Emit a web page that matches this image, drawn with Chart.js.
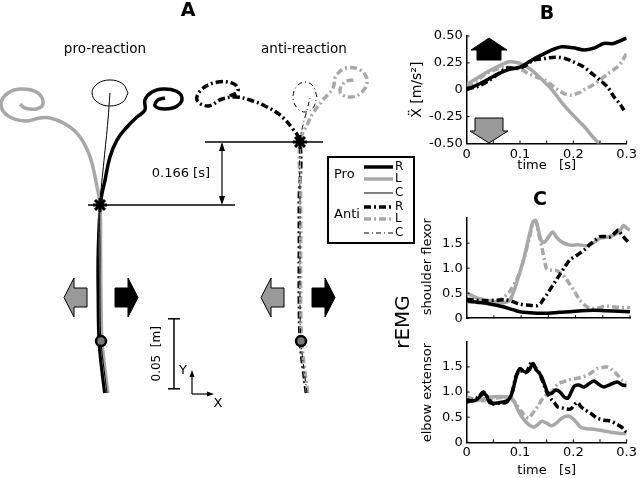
<!DOCTYPE html>
<html>
<head>
<meta charset="utf-8">
<script src="https://cdn.jsdelivr.net/npm/chart.js@4.4.0/dist/chart.umd.min.js"></script>
<style>
  html, body { margin: 0; padding: 0; background: #fff; }
  #wrap { position: relative; width: 640px; height: 478px; overflow: hidden; }
  canvas { position: absolute; }
</style>
</head>
<body>
<div id="wrap">
  <canvas id="cA" width="640" height="478" style="left:0;top:0"></canvas>
  <canvas id="cB" width="240" height="178" style="left:400px;top:0"></canvas>
  <canvas id="cC1" width="240" height="140" style="left:400px;top:190px"></canvas>
  <canvas id="cC2" width="240" height="148" style="left:400px;top:330px"></canvas>
</div>
<script>
// ---------- panel A: hand paths, mm relative to start position ----------
const PRO_R_X = [-1.6, -3.6, -5.6, -6.2, -6.2, -4.3, -1.4, 2.1, 7.1, 14.3, 21.4, 27.1, 27.1, 32.1, 40, 49.3, 53.6, 50, 41.4, 34.3, 36.4, 41.4];
const PRO_R_Y = [0, 16.4, 37, 66, 102, 137.9, 152.1, 168.6, 180.7, 190, 197.1, 202.1, 209.3, 215, 217.1, 215.7, 210.7, 205, 202.9, 205, 209.3, 210.7];
const PRO_L_X = [0.6, -1.4, -3.6, -4.3, -4.6, -5, -7.1, -12.1, -19.3, -28.6, -40.7, -47.9, -58.6, -70.7, -75.7, -70.7, -60.7, -49.3, -45.7, -50.7, -58.6, -62.1];
const PRO_L_Y = [0, 16.4, 37, 66, 102, 134.3, 147.1, 168.6, 182.9, 191.4, 196.4, 196.4, 194.3, 197.9, 206.4, 214.3, 217.1, 214.3, 206.4, 202.9, 203.6, 206.4];
const PRO_C_X = [0, -2, -4.3, -5, -5, -5, -2.1, 0.7, 2.1, null, 15, 11.4, 2.1, -7.1, -10.7, -7.1, 2.1, 11.4, 15];
const PRO_C_Y = [0, 16, 37, 66, 102, 134.3, 166.4, 195, 214.3, null, 214.3, 220.7, 223.6, 220.7, 214.3, 207.9, 205, 207.9, 214.3];

const ANTI_R_X = [-0.5, -2.6, -4.8, -5.5, -5.5, -5.5, -5, -10.7, -19.3, -30, -40.7, -50.7, -60.7, -70.7, -78.6, -75, -63.6, -52.1, -49.3, -55];
const ANTI_R_Y = [0, 16.4, 37.1, 66.4, 102.1, 137.9, 179.3, 189.3, 198.6, 205, 209.3, 211.4, 210, 205, 209.3, 217.1, 222.1, 220.7, 215.7, 212.1];
const ANTI_L_X = [0.5, -1.6, -3.8, -4.5, -4.5, -4.5, -5, 0.7, 4.3, 11.4, 18.6, 20.7, 27.9, 37.9, 42.9, 39.3, 30.7, 23.6, 27.1, 34.3];
const ANTI_L_Y = [0, 16.4, 37.1, 66.4, 102.1, 137.9, 179.3, 192.9, 200, 209.3, 217.9, 226.4, 232.1, 230.7, 223.6, 215, 211.4, 215, 222.1, 223.6];
const ANTI_C_X = [0, -2.1, -4.3, -5, -5, -5, -5, -2.9, 0, 2.1, null, 7.1, 4.3, -1.4, -7.1, -10, -7.1, -1.4, 4.3, 7.1];
const ANTI_C_Y = [0, 16.4, 37.1, 66.4, 102.1, 137.9, 179.3, 191.4, 202.1, 210.7, null, 211.4, 219.3, 222.1, 219.3, 211.4, 203.6, 200.7, 203.6, 211.4];

const MARK_X = -4.3, MARK_Y = 37.1;       // circle marker on the path
const PRO_ONSET = [-5, 134.3];            // star: reaction onset
const ANTI_ONSET = [-5, 179.3];
const REACTION_DELAY = 0.166;             // s
const SCALE_BAR_MM = 50;                  // 0.05 m

// ---------- panel B: hand acceleration [m/s^2] ----------
const B_PRO_R_T = [0, 0.03, 0.06, 0.08, 0.1, 0.12, 0.135, 0.155, 0.178, 0.2, 0.22, 0.24, 0.257, 0.275, 0.29, 0.3];
const B_PRO_R   = [0, 0.07, 0.15, 0.19, 0.21, 0.27, 0.31, 0.36, 0.40, 0.39, 0.37, 0.39, 0.43, 0.43, 0.46, 0.48];
const B_PRO_L_T = [0, 0.02, 0.04, 0.06, 0.08, 0.1, 0.12, 0.14, 0.16, 0.18, 0.2, 0.22, 0.235, 0.25];
const B_PRO_L   = [0.05, 0.11, 0.17, 0.22, 0.26, 0.245, 0.19, 0.10, 0.0, -0.13, -0.24, -0.34, -0.43, -0.51];
const B_ANTI_R_T = [0, 0.02, 0.04, 0.06, 0.075, 0.09, 0.105, 0.12, 0.13, 0.145, 0.16, 0.175, 0.185, 0.2, 0.22, 0.235, 0.25, 0.265, 0.276, 0.287, 0.295];
const B_ANTI_R   = [0.01, 0.03, 0.08, 0.15, 0.2, 0.2, 0.21, 0.26, 0.28, 0.29, 0.30, 0.30, 0.29, 0.26, 0.21, 0.15, 0.09, 0.02, -0.065, -0.13, -0.19];
const B_ANTI_L_T = [0, 0.02, 0.037, 0.055, 0.073, 0.09, 0.105, 0.116, 0.13, 0.147, 0.16, 0.171, 0.185, 0.196, 0.21, 0.22, 0.235, 0.25, 0.265, 0.282, 0.292, 0.3];
const B_ANTI_L   = [0.03, 0.09, 0.15, 0.19, 0.21, 0.2, 0.18, 0.15, 0.12, 0.09, 0.04, 0.0, -0.04, -0.05, -0.03, 0.0, 0.04, 0.09, 0.15, 0.21, 0.27, 0.34];

// ---------- panel C: rEMG, shoulder flexor ----------
const SF_PRO_R_T = [0, 0.02, 0.04, 0.067, 0.085, 0.098, 0.115, 0.129, 0.15, 0.17, 0.19, 0.21, 0.233, 0.255, 0.28, 0.3];
const SF_PRO_R   = [0.35, 0.32, 0.29, 0.23, 0.17, 0.13, 0.11, 0.10, 0.10, 0.12, 0.13, 0.15, 0.16, 0.15, 0.14, 0.13];
const SF_PRO_L_T = [0, 0.01, 0.02, 0.035, 0.05, 0.065, 0.078, 0.086, 0.092, 0.098, 0.104, 0.11, 0.116, 0.122, 0.127, 0.132, 0.137, 0.143, 0.15, 0.158, 0.165, 0.175, 0.19, 0.205, 0.22, 0.235, 0.245, 0.258, 0.27, 0.28, 0.288, 0.294, 0.3];
const SF_PRO_L   = [0.5, 0.45, 0.40, 0.36, 0.33, 0.31, 0.35, 0.52, 0.72, 0.93, 1.15, 1.42, 1.7, 1.93, 1.95, 1.75, 1.55, 1.52, 1.62, 1.72, 1.62, 1.52, 1.46, 1.47, 1.45, 1.52, 1.6, 1.62, 1.66, 1.72, 1.85, 1.8, 1.76];
const SF_ANTI_R_T = [0, 0.015, 0.035, 0.055, 0.07, 0.085, 0.098, 0.115, 0.129, 0.136, 0.141, 0.147, 0.153, 0.162, 0.171, 0.18, 0.19, 0.2, 0.208, 0.218, 0.227, 0.236, 0.245, 0.255, 0.263, 0.272, 0.279, 0.284, 0.29, 0.297];
const SF_ANTI_R   = [0.38, 0.36, 0.35, 0.36, 0.37, 0.33, 0.28, 0.26, 0.25, 0.3, 0.38, 0.47, 0.57, 0.72, 0.87, 1.02, 1.17, 1.24, 1.3, 1.38, 1.48, 1.56, 1.63, 1.63, 1.62, 1.7, 1.76, 1.68, 1.6, 1.52];
const SF_ANTI_L_T = [0, 0.02, 0.04, 0.055, 0.068, 0.08, 0.092, 0.1, 0.108, 0.116, 0.123, 0.128, 0.133, 0.138, 0.143, 0.147, 0.155, 0.165, 0.175, 0.183, 0.19, 0.2, 0.208, 0.218, 0.227, 0.24, 0.257, 0.275, 0.3];
const SF_ANTI_L   = [0.33, 0.31, 0.3, 0.33, 0.42, 0.55, 0.78, 1.0, 1.3, 1.65, 1.93, 1.9, 1.65, 1.42, 1.15, 0.98, 0.96, 0.95, 0.88, 0.78, 0.67, 0.5, 0.36, 0.25, 0.2, 0.2, 0.24, 0.22, 0.21];

// ---------- panel C: rEMG, elbow extensor ----------
const EE_PRO_R_T = [0, 0.01, 0.02, 0.031, 0.037, 0.043, 0.055, 0.065, 0.075, 0.082, 0.088, 0.094, 0.1, 0.106, 0.112, 0.118, 0.124, 0.13, 0.136, 0.141, 0.147, 0.153, 0.16, 0.167, 0.175, 0.183, 0.19, 0.196, 0.202, 0.21, 0.22, 0.23, 0.239, 0.248, 0.257, 0.267, 0.282, 0.292, 0.3];
const EE_PRO_R   = [0.85, 0.82, 0.86, 0.97, 0.93, 0.79, 0.78, 0.8, 0.82, 0.9, 1.1, 1.35, 1.47, 1.42, 1.4, 1.45, 1.57, 1.45, 1.38, 1.29, 1.12, 0.97, 0.98, 1.04, 1.0, 0.9, 0.88, 1.0, 1.12, 1.14, 1.1, 1.17, 1.22, 1.15, 1.1, 1.14, 1.2, 1.14, 1.13];
const EE_ANTI_R_T = [0, 0.012, 0.022, 0.031, 0.04, 0.05, 0.062, 0.075, 0.085, 0.092, 0.1, 0.11, 0.117, 0.122, 0.128, 0.135, 0.143, 0.15, 0.159, 0.165, 0.171, 0.18, 0.19, 0.196, 0.203, 0.208, 0.215, 0.22, 0.232, 0.245, 0.258, 0.27, 0.28, 0.288, 0.295, 0.3];
const EE_ANTI_R   = [0.8, 0.84, 0.9, 1.0, 0.88, 0.76, 0.78, 0.8, 0.98, 1.3, 1.43, 1.38, 1.5, 1.6, 1.5, 1.4, 1.2, 1.0, 0.85, 0.78, 0.7, 0.68, 0.66, 0.67, 0.76, 0.79, 0.7, 0.66, 0.58, 0.48, 0.44, 0.42, 0.37, 0.32, 0.26, 0.2];
const EE_PRO_L_T = [0, 0.015, 0.03, 0.045, 0.06, 0.075, 0.086, 0.092, 0.098, 0.104, 0.11, 0.118, 0.125, 0.133, 0.141, 0.15, 0.159, 0.168, 0.176, 0.184, 0.192, 0.2, 0.207, 0.214, 0.225, 0.239, 0.255, 0.27, 0.285, 0.3];
const EE_PRO_L   = [0.85, 0.83, 0.86, 0.9, 0.91, 0.9, 0.85, 0.74, 0.6, 0.5, 0.42, 0.34, 0.3, 0.35, 0.42, 0.38, 0.33, 0.38, 0.46, 0.51, 0.52, 0.46, 0.38, 0.3, 0.27, 0.26, 0.23, 0.2, 0.18, 0.17];
const EE_ANTI_L_T = [0, 0.012, 0.025, 0.04, 0.055, 0.07, 0.082, 0.092, 0.1, 0.108, 0.116, 0.122, 0.128, 0.135, 0.141, 0.15, 0.159, 0.165, 0.171, 0.18, 0.19, 0.2, 0.21, 0.22, 0.232, 0.245, 0.255, 0.263, 0.272, 0.282, 0.29, 0.3];
const EE_ANTI_L   = [0.91, 0.86, 0.82, 0.86, 0.88, 0.9, 0.88, 0.78, 0.64, 0.55, 0.48, 0.55, 0.64, 0.74, 0.85, 0.95, 1.0, 1.08, 1.16, 1.2, 1.24, 1.26, 1.28, 1.31, 1.37, 1.47, 1.49, 1.5, 1.45, 1.35, 1.25, 1.19];

// ---------- styles / layout ----------
const BLACK = '#000', GRAY = '#a8a8a8', ARROW_GRAY = '#999';
const FONT = '"DejaVu Sans", sans-serif';
const DD = [7, 3, 2, 3], DD_THIN = [5, 3, 1, 3];
const STY = {
  proR:  { color: BLACK, width: 3.5, dash: [] },
  proL:  { color: GRAY,  width: 3.5, dash: [] },
  proC:  { color: BLACK, width: 1,   dash: [] },
  antiR: { color: BLACK, width: 3.5, dash: DD },
  antiL: { color: GRAY,  width: 3.5, dash: DD },
  antiC: { color: BLACK, width: 1,   dash: DD_THIN }
};
const PX_PER_MM = 1.4;
const ORIGIN = [107, 393];                // start position on the page
const ANTI_OFFSET = 200 / PX_PER_MM;      // anti panel drawn 200px to the right

const xy = (xs, ys, dx = 0) => xs.map((x, i) => ({ x: x === null ? null : x + dx, y: ys[i] }));

function path(xs, ys, st, dx) {
  return { data: xy(xs, ys, dx), showLine: true, borderColor: st.color, borderWidth: st.width,
           borderDash: st.dash, pointRadius: 0, tension: 0.4, spanGaps: false };
}

function strokeLine(c, pts, w, col, dash) {
  c.save(); c.beginPath(); c.lineWidth = w; c.strokeStyle = col || BLACK; c.setLineDash(dash || []);
  pts.forEach((p, i) => i ? c.lineTo(p[0], p[1]) : c.moveTo(p[0], p[1]));
  c.stroke(); c.restore();
}
function poly(c, pts, fill) {
  c.beginPath(); pts.forEach((p, i) => i ? c.lineTo(p[0], p[1]) : c.moveTo(p[0], p[1]));
  c.closePath(); c.fillStyle = fill; c.fill(); c.lineWidth = 1; c.strokeStyle = BLACK; c.stroke();
}
function txt(c, s, x, y, font, align, rot) {
  c.save(); c.translate(x, y); if (rot) c.rotate(rot);
  c.font = font; c.fillStyle = BLACK; c.textAlign = align || 'center'; c.textBaseline = 'middle';
  c.fillText(s, 0, 0); c.restore();
}
// horizontal block arrow, tip at x, dir -1 left / +1 right
function hArrow(c, tip, y, dir, fill) {
  const h = 10 * dir, L = 23 * dir;
  poly(c, [[tip, y], [tip - h, y - 19.5], [tip - h, y - 9.5], [tip - L, y - 9.5],
           [tip - L, y + 9.5], [tip - h, y + 9.5], [tip - h, y + 19.5]], fill);
}
function vArrow(c, x, tip, dir, fill, L, hw, sw) {
  const h = 12 * dir;
  poly(c, [[x, tip], [x - hw, tip - h], [x - sw, tip - h], [x - sw, tip - L * dir],
           [x + sw, tip - L * dir], [x + sw, tip - h], [x + hw, tip - h]], fill);
}

const decor = {
  id: 'decor',
  afterDraw(chart) {
    const c = chart.ctx, X = v => chart.scales.x.getPixelForValue(v), Y = v => chart.scales.y.getPixelForValue(v);
    c.save();
    txt(c, 'A', 188, 11, 'bold 19px ' + FONT);
    txt(c, 'B', 547, 14, 'bold 19px ' + FONT);
    txt(c, 'C', 540, 200, 'bold 19px ' + FONT);
    txt(c, 'pro-reaction', 105, 49, '13.5px ' + FONT);
    txt(c, 'anti-reaction', 304, 49, '13.5px ' + FONT);

    // onset levels and delay
    const yPro = Y(PRO_ONSET[1]), yAnti = Y(ANTI_ONSET[1]);
    strokeLine(c, [[88, yPro], [235, yPro]], 1.5);
    strokeLine(c, [[205, yAnti], [323, yAnti]], 1.5);
    strokeLine(c, [[222, yAnti + 2], [222, yPro - 2]], 1.2);
    c.fillStyle = BLACK;
    c.beginPath(); c.moveTo(222, yAnti); c.lineTo(219, yAnti + 9); c.lineTo(225, yAnti + 9); c.fill();
    c.beginPath(); c.moveTo(222, yPro); c.lineTo(219, yPro - 9); c.lineTo(225, yPro - 9); c.fill();
    txt(c, REACTION_DELAY.toFixed(3) + ' [s]', 210, (yPro + yAnti) / 2, '13px ' + FONT, 'right');

    // perturbation arrows
    hArrow(c, 64, 297.5, -1, ARROW_GRAY);  hArrow(c, 138, 297.5, 1, BLACK);
    hArrow(c, 261, 297.5, -1, ARROW_GRAY); hArrow(c, 335, 297.5, 1, BLACK);
    vArrow(c, 489, 38, -1, BLACK, 22, 18, 12);
    vArrow(c, 489, 143, 1, ARROW_GRAY, 25, 19, 14);

    // scale bar
    const y0 = Y(3), y1 = Y(3 + SCALE_BAR_MM);
    strokeLine(c, [[174, y0], [174, y1]], 1.5);
    strokeLine(c, [[168, y0], [180, y0]], 1.5);
    strokeLine(c, [[168, y1], [180, y1]], 1.5);
    txt(c, (SCALE_BAR_MM / 1000).toFixed(2) + '  [m]', 157, (y0 + y1) / 2, '12px ' + FONT, 'center', -Math.PI / 2);
    strokeLine(c, [[192, 394], [192, 374]], 1.2);
    strokeLine(c, [[192, 394], [211, 394]], 1.2);
    c.fillStyle = BLACK;
    c.beginPath(); c.moveTo(192, 370); c.lineTo(189.5, 377); c.lineTo(194.5, 377); c.fill();
    c.beginPath(); c.moveTo(214, 394); c.lineTo(207, 391.5); c.lineTo(207, 396.5); c.fill();
    txt(c, 'Y', 183, 371, '13px ' + FONT);
    txt(c, 'X', 218, 404, '13px ' + FONT);

    // legend
    c.lineWidth = 2; c.strokeStyle = BLACK; c.strokeRect(328, 157, 86, 86);
    txt(c, 'Pro', 334, 175, '13px ' + FONT, 'left');
    txt(c, 'Anti', 334, 215, '13px ' + FONT, 'left');
    [['proR', 'R', 167], ['proL', 'L', 179], ['proC', 'C', 193],
     ['antiR', 'R', 207], ['antiL', 'L', 219], ['antiC', 'C', 233]].forEach(([k, lab, y]) => {
      const s = STY[k];
      strokeLine(c, [[364, y], [393, y]], s.width, s.color, s.dash);
      txt(c, lab, 395, y, '12px ' + FONT, 'left');
    });

    txt(c, 'rEMG', 404, 322, '20px ' + FONT, 'center', -Math.PI / 2);
    c.restore();
  }
};

new Chart(document.getElementById('cA'), {
  type: 'scatter',
  data: { datasets: [
    { data: [{ x: MARK_X, y: MARK_Y }, { x: MARK_X + ANTI_OFFSET, y: MARK_Y }], pointStyle: 'circle',
      pointRadius: 5, borderWidth: 2.5, borderColor: BLACK, backgroundColor: '#777' },
    { data: [{ x: PRO_ONSET[0], y: PRO_ONSET[1] }, { x: ANTI_ONSET[0] + ANTI_OFFSET, y: ANTI_ONSET[1] }],
      pointStyle: 'star', pointRadius: 7, borderWidth: 3, borderColor: BLACK },
    path(PRO_C_X, PRO_C_Y, STY.proC, 0),
    path(PRO_L_X, PRO_L_Y, STY.proL, 0),
    path(PRO_R_X, PRO_R_Y, STY.proR, 0),
    path(ANTI_C_X, ANTI_C_Y, STY.antiC, ANTI_OFFSET),
    path(ANTI_L_X, ANTI_L_Y, STY.antiL, ANTI_OFFSET),
    path(ANTI_R_X, ANTI_R_Y, STY.antiR, ANTI_OFFSET)
  ] },
  options: {
    responsive: false, animation: false, layout: { padding: 0, autoPadding: false },
    plugins: { legend: { display: false }, tooltip: { enabled: false } },
    scales: {
      x: { type: 'linear', display: false, min: -ORIGIN[0] / PX_PER_MM, max: (640 - ORIGIN[0]) / PX_PER_MM },
      y: { type: 'linear', display: false, min: -(478 - ORIGIN[1]) / PX_PER_MM, max: ORIGIN[1] / PX_PER_MM }
    }
  },
  plugins: [decor]
});

// ---------- time-series charts (B, C) ----------
const inTicks = {
  id: 'inTicks',
  afterDraw(ch) {
    const c = ch.ctx, a = ch.chartArea;
    c.save(); c.strokeStyle = BLACK; c.lineWidth = 1;
    ch.scales.x.ticks.forEach(t => {
      const p = ch.scales.x.getPixelForValue(t.value);
      c.beginPath(); c.moveTo(p, a.bottom); c.lineTo(p, a.bottom - 3); c.stroke();
    });
    ch.scales.y.ticks.forEach(t => {
      if (t.label === '') return;
      const p = ch.scales.y.getPixelForValue(t.value);
      c.beginPath(); c.moveTo(a.left, p); c.lineTo(a.left + 3, p); c.stroke();
    });
    c.restore();
  }
};

function series(t, v, st) {
  return { data: xy(t, v), borderColor: st.color, borderWidth: st.width, borderDash: st.dash,
           pointRadius: 0, tension: 0.3, fill: false };
}

function tsChart(id, datasets, o) {
  const font = { family: 'DejaVu Sans', size: 13 };
  return new Chart(document.getElementById(id), {
    type: 'line',
    data: { datasets },
    options: {
      responsive: false, animation: false,
      layout: { padding: { top: o.top, right: 10, left: 0, bottom: 0 }, autoPadding: false },
      plugins: { legend: { display: false }, tooltip: { enabled: false } },
      scales: {
        x: {
          type: 'linear', min: 0, max: 0.3,
          grid: { display: false, drawTicks: false }, border: { color: BLACK, width: 1.5 },
          ticks: { display: o.showX, stepSize: 0.05, autoSkip: false, maxRotation: 0, padding: 3,
                   font, color: BLACK,
                   callback: v => Math.round(v * 20) % 2 === 0 ? String(Math.round(v * 20) / 20) : '' },
          title: { display: o.showX, text: 'time   [s]', font, color: BLACK, padding: { top: 0, bottom: o.xTitlePad } },
          afterFit: s => { s.height = o.xh; }
        },
        y: {
          type: 'linear', min: o.ymin, max: o.ymax,
          grid: { display: false, drawTicks: false }, border: { color: BLACK, width: 1.5 },
          ticks: { stepSize: o.ystep, autoSkip: false, padding: 4, font, color: BLACK, callback: o.yfmt },
          title: { display: true, text: o.yTitle, align: o.yAlign || 'center',
                   font: { family: 'DejaVu Sans', size: o.yTitleSize || 13 }, color: BLACK,
                   padding: { top: o.titlePad, bottom: 0 } },
          afterFit: s => { s.width = 66.7; }
        }
      }
    },
    plugins: [inTicks]
  });
}

tsChart('cB', [
  series(B_PRO_R_T, B_PRO_R, STY.proR),
  series(B_ANTI_R_T, B_ANTI_R, STY.antiR),
  series(B_PRO_L_T, B_PRO_L, STY.proL),
  series(B_ANTI_L_T, B_ANTI_L, STY.antiL)
], { top: 36, xh: 34.5, xTitlePad: 5, showX: true, ymin: -0.5, ymax: 0.5, ystep: 0.25,
     yfmt: v => v === 0 ? '0' : v.toFixed(2), yTitle: 'Ẍ [m/s²]', yTitleSize: 14, titlePad: 9 });

const emgFmt = v => v >= 2 ? '' : (v === 0 ? '0' : v.toFixed(1));

tsChart('cC1', [
  series(SF_PRO_R_T, SF_PRO_R, STY.proR),
  series(SF_ANTI_R_T, SF_ANTI_R, STY.antiR),
  series(SF_PRO_L_T, SF_PRO_L, STY.proL),
  series(SF_ANTI_L_T, SF_ANTI_L, STY.antiL)
], { top: 28.1, xh: 2.7, xTitlePad: 0, showX: false, ymin: 0, ymax: 2, ystep: 0.5, yfmt: emgFmt,
     yTitle: 'shoulder flexor', yAlign: 'end', titlePad: 20 });

tsChart('cC2', [
  series(EE_PRO_R_T, EE_PRO_R, STY.proR),
  series(EE_ANTI_R_T, EE_ANTI_R, STY.antiR),
  series(EE_PRO_L_T, EE_PRO_L, STY.proL),
  series(EE_ANTI_L_T, EE_ANTI_L, STY.antiL)
], { top: 5.1, xh: 35.7, xTitlePad: 0, showX: true, ymin: 0, ymax: 2, ystep: 0.5, yfmt: emgFmt,
     yTitle: 'elbow extensor', yAlign: 'start', titlePad: 20 });
</script>
</body>
</html>
